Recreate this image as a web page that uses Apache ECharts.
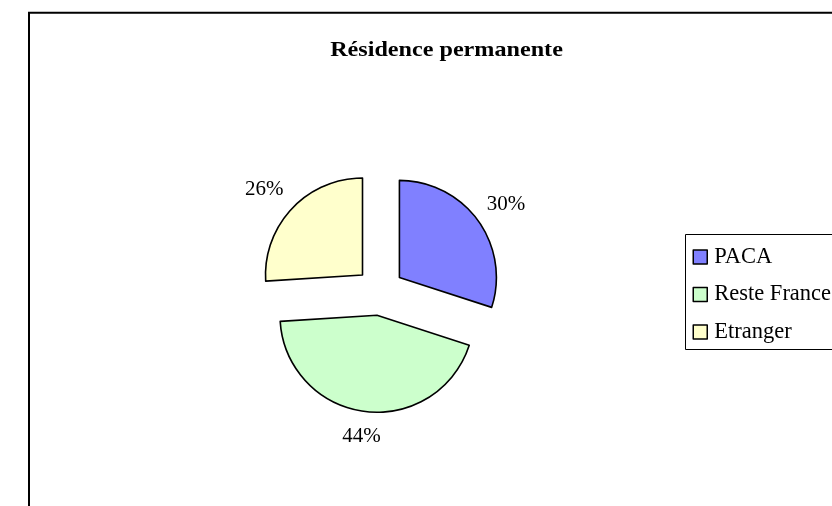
<!DOCTYPE html>
<html>
<head>
<meta charset="utf-8">
<script src="https://cdn.jsdelivr.net/npm/echarts@6/dist/echarts.min.js"></script>
<style>html,body{margin:0;padding:0;background:#fff}#c{width:832px;height:506px}</style>
</head>
<body>
<div id="c"></div>
<script>
const titleText = 'Résidence permanente';
const categories = ['PACA', 'Reste France', 'Etranger'];
const values = [30, 44, 26];
const colors = ['#8080FF', '#CCFFCC', '#FFFFCC'];

const total = values.reduce((a, b) => a + b, 0);
const mids = [];
let cum = 0;
values.forEach(v => { mids.push((cum + v / 2) / total * 2 * Math.PI); cum += v; });

const chart = echarts.init(document.getElementById('c'), null, { renderer: 'canvas' });
chart.setOption({
  animation: false,
  backgroundColor: '#fff',
  graphic: [{
    type: 'rect', silent: true, z: -1,
    shape: { x: 29, y: 12.7, width: 900, height: 600 },
    style: { fill: 'none', stroke: '#000', lineWidth: 2 }
  }, {
    type: 'text', silent: true,
    x: 446.5, y: 50.5, scaleX: 1.15,
    style: {
      text: titleText, align: 'center', verticalAlign: 'middle',
      fontFamily: 'Liberation Serif', fontWeight: 'bold', fontSize: 21, fill: '#000'
    }
  }],
  legend: {
    orient: 'vertical', left: 685.5, top: 234.5, padding: [11, 10, 6, 7],
    borderColor: '#000', borderWidth: 1, borderRadius: 0,
    itemWidth: 14, itemHeight: 14, itemGap: 14.5, icon: 'rect',
    itemStyle: { borderColor: '#000', borderWidth: 1.5 },
    textStyle: { fontFamily: 'Liberation Serif', fontSize: 22.5, color: '#000', lineHeight: 22, padding: [0, 0, 0, 2] },
    selectedMode: false,
    data: categories
  },
  series: [{
    type: 'pie',
    center: [380, 291.5], radius: 97, startAngle: 90, clockwise: true,
    selectedMode: 'multiple', selectedOffset: 24, avoidLabelOverlap: false,
    itemStyle: { borderColor: '#000', borderWidth: 1.6 },
    select: { itemStyle: { borderColor: '#000', borderWidth: 1.6 } },
    emphasis: { disabled: true },
    label: {
      show: true, position: 'outside', formatter: p => p.value + '%',
      fontFamily: 'Liberation Serif', fontSize: 21, color: '#000', distanceToLabelLine: 0
    },
    labelLine: { show: false, length: 13, length2: 0 },
    labelLayout: function (p) {
      const a = mids[p.dataIndex];
      const nx = Math.sin(a), ny = -Math.cos(a);
      const w = p.labelRect.width, h = p.labelRect.height;
      const sup = Math.abs(nx) * w / 2 + Math.abs(ny) * h / 2;
      return {
        dx: nx * sup - (nx > 0 ? 1 : -1) * w / 2 + (nx < 0 && ny < 0 ? -2.5 : 0),
        dy: ny * sup + (ny < 0 ? 4.5 : -1)
      };
    },
    data: categories.map((n, i) => ({ name: n, value: values[i], selected: true, itemStyle: { color: colors[i] } }))
  }]
});
</script>
</body>
</html>
